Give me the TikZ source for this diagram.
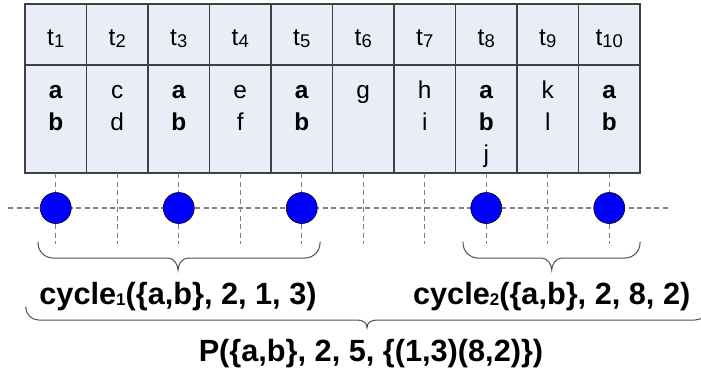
\documentclass[tikz,border=0pt]{standalone}
\usepackage{fontspec}
\setmainfont{Liberation Sans}
\definecolor{tabline}{RGB}{64,64,64}
\definecolor{cellfill}{RGB}{232,237,247}
\definecolor{gridgray}{RGB}{128,128,128}
\definecolor{bracegray}{RGB}{80,80,80}
\definecolor{dotblue}{RGB}{0,0,255}
\newcommand\tsubidx[1]{\raisebox{-2bp}{\fontsize{18.5}{19}\selectfont #1}}
\newcommand\lsubidx[1]{\raisebox{-1bp}{\fontsize{17}{18}\selectfont\bfseries #1}}
% x1 x2 xtip ytop yline ytip radius
\newcommand\bracedraw[7]{%
  \draw[brc] (#1,#4) -- (#1,#5-#7)
    .. controls (#1,#5-0.45*#7) and (#1+0.45*#7,#5) .. (#1+#7,#5)
    -- (#3-10,#5)
    .. controls (#3-4,#5) and (#3,#6-5) .. (#3,#6)
    .. controls (#3,#6-5) and (#3+4,#5) .. (#3+10,#5)
    -- (#2-#7,#5)
    .. controls (#2-0.45*#7,#5) and (#2,#5-0.45*#7) .. (#2,#5-#7)
    -- (#2,#4);}
\begin{document}
\begin{tikzpicture}[x=1bp,y=-1bp,
  cell/.style={draw=tabline, fill=cellfill, line width=1.2bp, minimum width=61.5bp, anchor=north west, inner sep=0pt, outer sep=0pt},
  hdr/.style={cell, minimum height=61bp},
  dat/.style={cell, minimum height=108bp},
  ttxt/.style={font=\fontsize{24.5}{29}\selectfont, anchor=base, inner sep=0pt},
  btxt/.style={font=\fontsize{24.5}{29}\selectfont\bfseries, anchor=base, inner sep=0pt},
  gridline/.style={draw=gridgray, line width=1.3bp, dash pattern=on 5bp off 3.5bp},
  dot/.style={circle, fill=dotblue, draw=black, line width=0.6bp, minimum size=31bp, inner sep=0pt},
  brc/.style={draw=bracegray, line width=1bp},
  lbl/.style={font=\fontsize{30.8}{36}\selectfont\bfseries, anchor=base, inner sep=0pt}]
\useasboundingbox (0,0) rectangle (701,372);
% table
\foreach \i in {1,...,10} {
  \pgfmathsetmacro\xl{25+61.5*(\i-1)}
  \node[hdr] (h\i) at (\xl,4) {};
  \node[dat] (d\i) at (\xl,65) {};
  \node[ttxt] (ht\i) at (\xl+30.75,45) {t\tsubidx{\i}};
}
% grid lines
\foreach \i in {1,...,10} {
  \draw[gridline] (d\i.south) -- ++(0,71);
}
\coordinate (gl) at (8,208);
\coordinate (gr) at (670,208);
\draw[gridline] (gl) -- (gr);
% cell contents
\node[btxt] (a1) at (55.75,98) {a};
\node[btxt] (b1) at (55.75,130) {b};
\node[ttxt] (c2) at (117.25,98) {c};
\node[ttxt] (dd2) at (117.25,130) {d};
\node[btxt] (a3) at (178.75,98) {a};
\node[btxt] (b3) at (178.75,130) {b};
\node[ttxt] (e4) at (240.25,98) {e};
\node[ttxt] (f4) at (240.25,130) {f};
\node[btxt] (a5) at (301.75,98) {a};
\node[btxt] (b5) at (301.75,130) {b};
\node[ttxt] (g6) at (363.25,98) {g};
\node[ttxt] (h7) at (424.75,98) {h};
\node[ttxt] (i7) at (424.75,130) {i};
\node[btxt] (a8) at (486.25,98) {a};
\node[btxt] (b8) at (486.25,130) {b};
\node[ttxt] (j8) at (486.25,162) {j};
\node[ttxt] (k9) at (547.75,98) {k};
\node[ttxt] (l9) at (547.75,130) {l};
\node[btxt] (a10) at (609.25,98) {a};
\node[btxt] (b10) at (609.25,130) {b};
% dots
\foreach \i in {1,3,5,8,10} {
  \node[dot] (p\i) at (d\i.south |- gl) {};
}
% braces
\bracedraw{38}{320}{178}{241.7}{258}{270}{15}
\bracedraw{463}{640}{551.7}{241.7}{258}{270}{15}
\bracedraw{25.7}{708}{367}{306.7}{320}{327.7}{13}
% labels
\node[lbl] (cyc1) at (178,304) {cycle\lsubidx{1}(\{a,b\}, 2, 1, 3)};
\node[lbl] (cyc2) at (551.7,304) {cycle\lsubidx{2}(\{a,b\}, 2, 8, 2)};
\node[lbl] (plbl) at (371,361) {P(\{a,b\}, 2, 5, \{(1,3)(8,2)\})};
\end{tikzpicture}
\end{document}
